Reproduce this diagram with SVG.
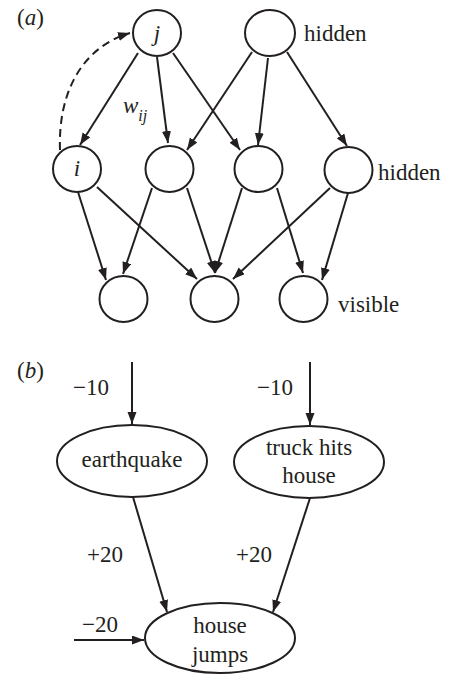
<svg xmlns="http://www.w3.org/2000/svg" width="449" height="675" viewBox="0 0 449 675">
<style>
.n{fill:#fff;stroke:#231f20;stroke-width:2}
.e{stroke:#231f20;stroke-width:2;fill:none;marker-end:url(#ah)}
.t{font-family:"Liberation Serif","Times New Roman",serif;font-size:23px;fill:#231f20}
.i{font-style:italic}
.m{text-anchor:middle}
</style>
<defs>
<marker id="ah" markerUnits="userSpaceOnUse" markerWidth="13" markerHeight="10" refX="12" refY="4.5" orient="auto"><path d="M0,0 L12,4.5 L0,9 z" fill="#231f20"/></marker>
</defs>
<rect width="449" height="675" fill="#fff"/>
<g id="connectors">
<path class="e" d="M138,53 L80,145"/>
<path class="e" d="M157,57 L168,143"/>
<path class="e" d="M173,53 L240,150"/>
<path class="e" d="M252,52 L187,150"/>
<path class="e" d="M268,58 L258,145"/>
<path class="e" d="M287,52 L347,146"/>
<path class="e" d="M78,192 L106,280"/>
<path class="e" d="M97,187 L197,279"/>
<path class="e" d="M152,188 L123,274"/>
<path class="e" d="M187,188 L215,273"/>
<path class="e" d="M242,188 L215,273"/>
<path class="e" d="M277,188 L303,273"/>
<path class="e" d="M330,188 L233,279"/>
<path class="e" d="M348,193 L322,280"/>
<path class="e" d="M60,150 C58,95 80,48 130,33" stroke-dasharray="8,5"/>
<path class="e" d="M132,362 L132,424"/>
<path class="e" d="M310,362 L310,425"/>
<path class="e" d="M133,497 L167,612"/>
<path class="e" d="M310,498 L273,612"/>
<path class="e" d="M74,640 L144,640"/>
</g>
<text class="t" x="17" y="25"><tspan>(</tspan><tspan class="i">a</tspan><tspan>)</tspan></text>
<text class="t" x="17" y="378"><tspan>(</tspan><tspan class="i">b</tspan><tspan>)</tspan></text>
<text class="t i" x="123" y="113">w<tspan font-size="16" dy="8">ij</tspan></text>
<g id="j"><ellipse class="n" cx="157" cy="33" rx="24" ry="23"/><text class="t i m" x="157" y="41">j</text></g>
<g id="h1"><ellipse class="n" cx="270" cy="33" rx="25" ry="23"/><text class="t" x="304" y="41">hidden</text></g>
<g id="i"><ellipse class="n" cx="77" cy="169" rx="24" ry="23"/><text class="t i m" x="77" y="176">i</text></g>
<g id="h2"><ellipse class="n" cx="169.5" cy="169" rx="24" ry="23"/></g>
<g id="h3"><ellipse class="n" cx="258.5" cy="169" rx="24" ry="23"/></g>
<g id="h4"><ellipse class="n" cx="348.5" cy="170" rx="24" ry="23"/><text class="t" x="378" y="180">hidden</text></g>
<g id="v1"><ellipse class="n" cx="123.5" cy="299" rx="24" ry="23"/></g>
<g id="v2"><ellipse class="n" cx="214.5" cy="299" rx="24" ry="23"/></g>
<g id="v3"><ellipse class="n" cx="303.5" cy="299" rx="24" ry="23"/><text class="t" x="338" y="312">visible</text></g>
<text class="t" x="73" y="395">−10</text>
<text class="t" x="257" y="395">−10</text>
<g id="earthquake"><ellipse class="n" cx="132" cy="461" rx="75" ry="36"/><text class="t m" x="132" y="467">earthquake</text></g>
<g id="truck"><ellipse class="n" cx="309" cy="462" rx="75" ry="36"/><text class="t m" x="309" y="455">truck hits</text><text class="t m" x="309" y="483">house</text></g>
<text class="t" x="87" y="562">+20</text>
<text class="t" x="236" y="562">+20</text>
<text class="t" x="82" y="632">−20</text>
<g id="housejumps"><ellipse class="n" cx="220" cy="638" rx="75" ry="35"/><text class="t m" x="220" y="633">house</text><text class="t m" x="220" y="662">jumps</text></g>
</svg>
